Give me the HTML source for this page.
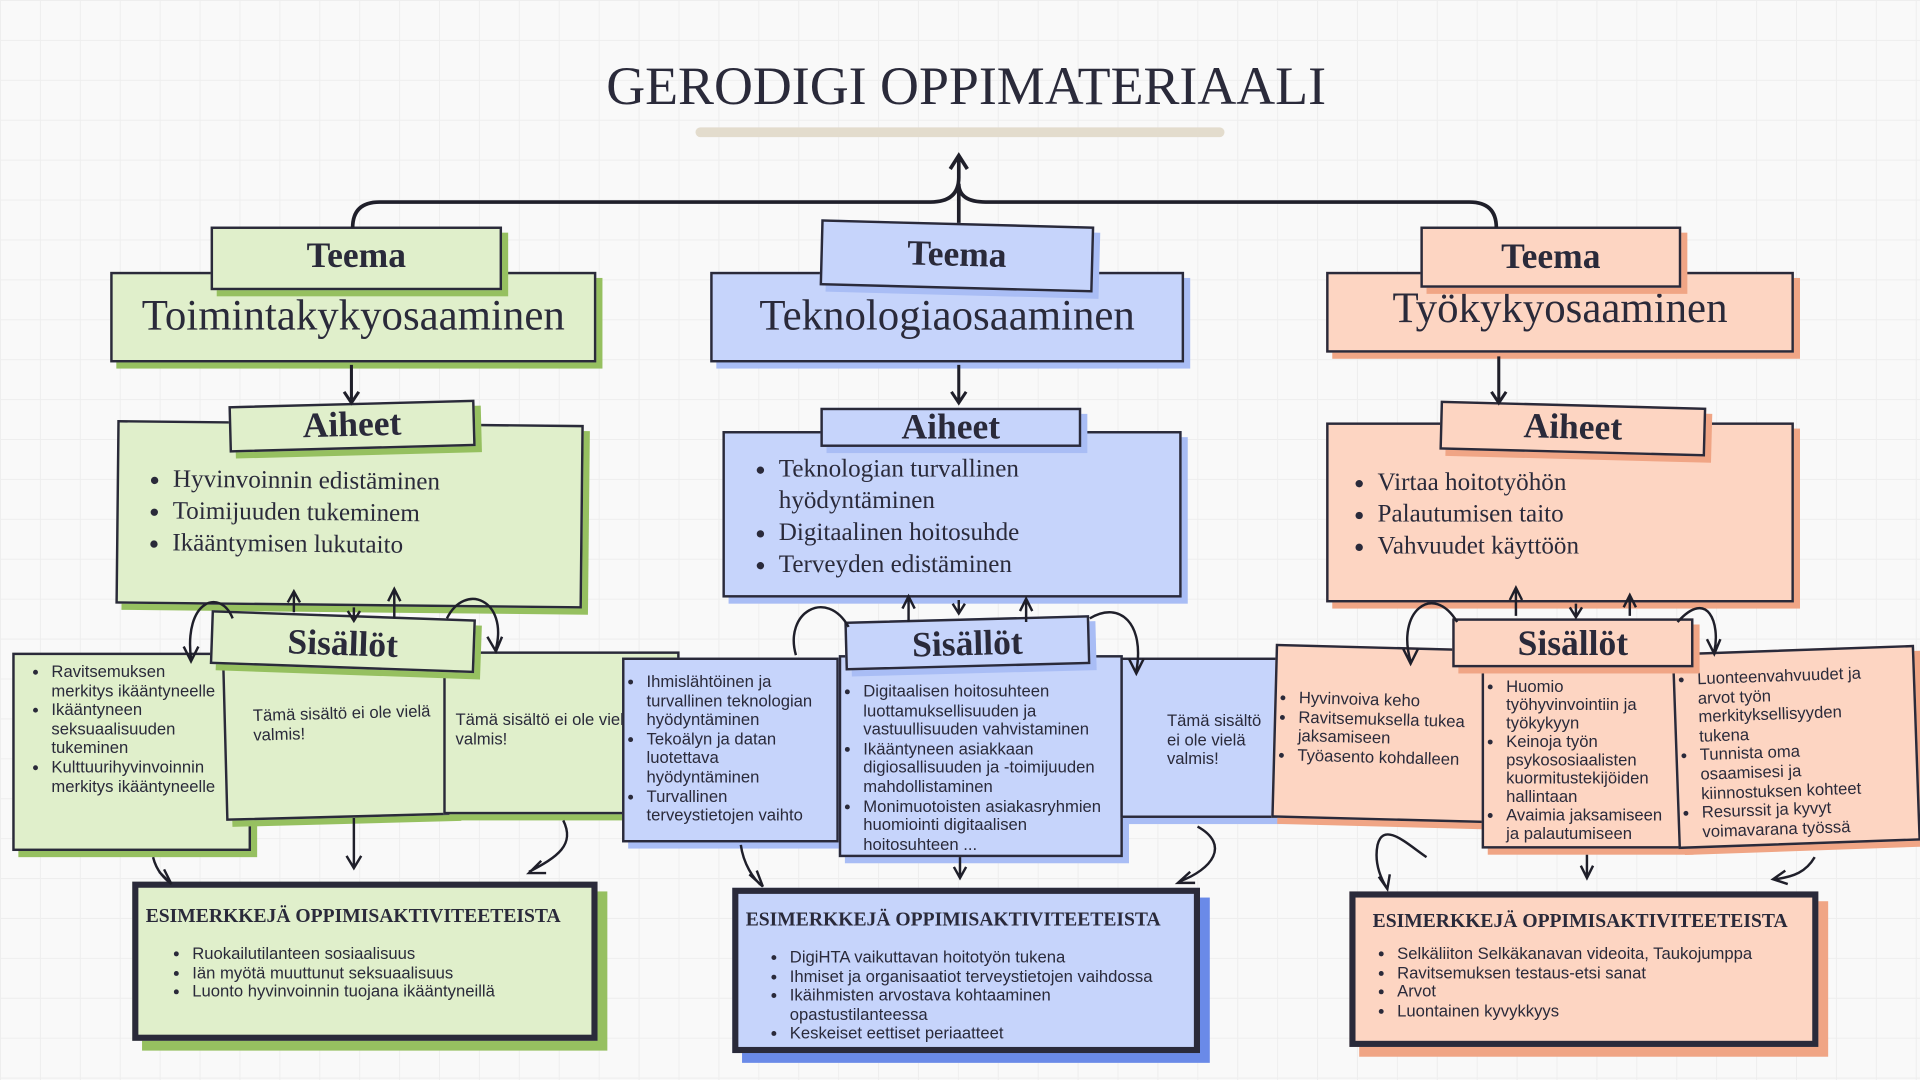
<!DOCTYPE html>
<html><head><meta charset="utf-8"><style>
html,body{margin:0;padding:0;width:1920px;height:1080px;overflow:hidden;background:#f9f9f9}
#w{position:absolute;left:0;top:0;width:1568px;height:882px;transform:scale(1.22449);transform-origin:0 0;
background-color:#f9f9f9;background-image:linear-gradient(#eeeeee 1px,transparent 1px),linear-gradient(90deg,#eeeeee 1px,transparent 1px);background-size:32.6px 32.6px}
.b{position:absolute;border:2.5px solid #2a2a3a;box-sizing:border-box;font-family:"Liberation Sans",sans-serif;color:#2a2a3a}
.g{background:#e0efcb;box-shadow:5px 5px 0 #96c060}
.bl{background:#c6d4fb;box-shadow:5px 5px 0 #a9bdf5}
.o{background:#fdd5c2;box-shadow:5px 5px 0 #f0a585}
.tab{text-align:center;font-family:"Liberation Serif",serif;font-weight:bold;font-size:29px;line-height:1}
.big{font-family:"Liberation Serif",serif;font-size:35px;text-align:center}
ul{margin:0;padding-left:22px}
.ai{font-family:"Liberation Serif",serif;font-size:20.5px;line-height:26px;position:absolute}
.sm{font-size:13.6px;line-height:15.6px}
.sm ul{padding-left:18px}
.ex{border-width:5px}
.ex h3{font-family:"Liberation Serif",serif;font-size:16px;font-weight:bold;margin:0;position:absolute;white-space:nowrap}
svg{position:absolute;left:0;top:0}
</style></head><body><div id="w">
<div style="position:absolute;left:0;width:1578px;top:45px;text-align:center;font-family:'Liberation Serif',serif;font-size:44px;color:#2a2a3a">GERODIGI OPPIMATERIAALI</div>
<div style="position:absolute;left:568px;top:104px;width:432px;height:8px;background:#e3dccd;border-radius:4px"></div>

<div class="b g big" style="left:90px;top:222px;width:397px;height:74px;padding-top:14px">Toimintakykyosaaminen</div>
<div class="b g tab" style="left:172px;top:185px;width:238px;height:52px;padding-top:8px">Teema</div>
<div class="b bl big" style="left:580px;top:222px;width:387px;height:74px;padding-top:14px">Teknologiaosaaminen</div>
<div class="b bl tab" style="left:670px;top:182px;width:223px;height:54px;padding-top:10px;transform:rotate(1.5deg)">Teema</div>
<div class="b o big" style="left:1083px;top:222px;width:382px;height:66px;padding-top:8px">Työkykyosaaminen</div>
<div class="b o tab" style="left:1160px;top:185px;width:213px;height:50px;padding-top:9px">Teema</div>

<div class="b g" style="left:95px;top:345px;width:381px;height:150px;transform:rotate(0.6deg)"><div class="ai" style="left:22px;top:33px"><ul><li>Hyvinvoinnin edistäminen</li><li>Toimijuuden tukeminem</li><li>Ikääntymisen lukutaito</li></ul></div></div>
<div class="b g tab" style="left:187px;top:329px;width:201px;height:38px;padding-top:2px;transform:rotate(-1.5deg)">Aiheet</div>
<div class="b bl" style="left:590px;top:352px;width:375px;height:136px"><div class="ai" style="left:22px;top:16px"><ul><li>Teknologian turvallinen hyödyntäminen</li><li>Digitaalinen hoitosuhde</li><li>Terveyden edistäminen</li></ul></div></div>
<div class="b bl tab" style="left:670px;top:333px;width:213px;height:32px;padding-top:0px">Aiheet</div>
<div class="b o" style="left:1083px;top:345px;width:382px;height:147px"><div class="ai" style="left:18px;top:34px"><ul><li>Virtaa hoitotyöhön</li><li>Palautumisen taito</li><li>Vahvuudet käyttöön</li></ul></div></div>
<div class="b o tab" style="left:1176px;top:330px;width:217px;height:40px;padding-top:3px;transform:rotate(1.5deg)">Aiheet</div>

<div class="b g sm" style="left:10px;top:533px;width:195px;height:162px;padding-top:6px;padding-right:20px"><ul style="padding-left:30px"><li>Ravitsemuksen merkitys ikääntyneelle</li><li>Ikääntyneen seksuaalisuuden tukeminen</li><li>Kulttuurihyvinvoinnin merkitys ikääntyneelle</li></ul></div>
<div class="b g sm" style="left:183px;top:540px;width:187px;height:128px;padding:33px 0 0 22px;transform:rotate(-1.5deg)">Tämä sisältö ei ole vielä valmis!</div>
<div class="b g sm" style="left:362px;top:532px;width:193px;height:133px;padding:46px 30px 0 8px">Tämä sisältö ei ole vielä valmis!</div>
<div class="b g tab" style="left:172px;top:502px;width:216px;height:44px;padding-top:8px;transform:rotate(2deg)">Sisällöt</div>

<div class="b bl sm" style="left:508px;top:537px;width:177px;height:151px;padding-top:10px;padding-right:6px"><ul><li>Ihmislähtöinen ja turvallinen teknologian hyödyntäminen</li><li>Tekoälyn ja datan luotettava hyödyntäminen</li><li>Turvallinen terveystietojen vaihto</li></ul></div>
<div class="b bl sm" style="left:685px;top:535px;width:232px;height:165px;padding-top:20px"><ul><li>Digitaalisen hoitosuhteen luottamuksellisuuden ja vastuullisuuden vahvistaminen</li><li>Ikääntyneen asiakkaan digiosallisuuden ja -toimijuuden mahdollistaminen</li><li>Monimuotoisten asiakasryhmien huomiointi digitaalisen hoitosuhteen ...</li></ul></div>
<div class="b bl sm" style="left:915px;top:537px;width:145px;height:131px;padding:42px 20px 0 36px">Tämä sisältö ei ole vielä valmis!</div>
<div class="b bl tab" style="left:690px;top:505px;width:200px;height:40px;padding-top:5px;transform:rotate(-1.5deg)">Sisällöt</div>

<div class="b o sm" style="left:1040px;top:528px;width:175px;height:142px;padding-top:34px;transform:rotate(1.5deg)"><ul><li>Hyvinvoiva keho</li><li>Ravitsemuksella tukea jaksamiseen</li><li>Työasento kohdalleen</li></ul></div>
<div class="b o sm" style="left:1210px;top:545px;width:168px;height:148px;padding-top:6px;padding-right:6px;line-height:15px"><ul><li>Huomio työhyvinvointiin ja työkykyyn</li><li>Keinoja työn psykososiaalisten kuormitustekijöiden hallintaan</li><li>Avaimia jaksamiseen ja palautumiseen</li></ul></div>
<div class="b o sm" style="left:1368px;top:530px;width:198px;height:160px;padding-top:12px;padding-right:30px;transform:rotate(-2deg)"><ul><li>Luonteenvahvuudet ja arvot työn merkityksellisyyden tukena</li><li>Tunnista oma osaamisesi ja kiinnostuksen kohteet</li><li>Resurssit ja kyvyt voimavarana työssä</li></ul></div>
<div class="b o tab" style="left:1186px;top:505px;width:197px;height:40px;padding-top:5px">Sisällöt</div>

<div class="b g ex sm" style="left:108px;top:720px;width:380px;height:130px;box-shadow:8px 8px 0 #96c060"><h3 style="left:6px;top:16px">ESIMERKKEJÄ OPPIMISAKTIVITEETEISTA</h3><ul style="position:absolute;left:26px;top:46px"><li>Ruokailutilanteen sosiaalisuus</li><li>Iän myötä muuttunut seksuaalisuus</li><li>Luonto hyvinvoinnin tuojana ikääntyneillä</li></ul></div>
<div class="b bl ex sm" style="left:598px;top:725px;width:382px;height:135px;box-shadow:8px 8px 0 #6a8ae8"><h3 style="left:6px;top:14px">ESIMERKKEJÄ OPPIMISAKTIVITEETEISTA</h3><ul style="position:absolute;left:24px;top:44px;width:320px"><li>DigiHTA vaikuttavan hoitotyön tukena</li><li>Ihmiset ja organisaatiot terveystietojen vaihdossa</li><li>Ikäihmisten arvostava kohtaaminen opastustilanteessa</li><li>Keskeiset eettiset periaatteet</li></ul></div>
<div class="b o ex sm" style="left:1102px;top:728px;width:383px;height:127px;box-shadow:8px 8px 0 #f0a585"><h3 style="left:14px;top:12px">ESIMERKKEJÄ OPPIMISAKTIVITEETEISTA</h3><ul style="position:absolute;left:16px;top:38px"><li>Selkäliiton Selkäkanavan videoita, Taukojumppa</li><li>Ravitsemuksen testaus-etsi sanat</li><li>Arvot</li><li>Luontainen kyvykkyys</li></ul></div>

<svg width="1568" height="882" fill="none" stroke="#1f1f2a" stroke-width="3">
<path d="M288 186 Q288 165 310 165 H760 Q783 165 783 145 V128 M776 138 L783 127 L790 138"/>
<path d="M783 182 V150 Q783 165 805 165 H1200 Q1222 165 1222 186"/>
<g stroke-width="2.5">
<path d="M287 298 V328 M281 320 L287 329 L293 320"/>
<path d="M783 298 V328 M777 320 L783 329 L789 320"/>
<path d="M1224 291 V328 M1218 320 L1224 329 L1230 320"/>
</g>
<g stroke-width="2">
<path d="M289 496 V506 M284 499 L289 507 L294 499"/><path d="M240 500 V484 M235 492 L240 483 L245 492"/><path d="M322 505 V482 M317 491 L322 481 L327 491"/>
<path d="M190 505 C180 480 150 490 156 538 M150 528 L156 540 L162 528"/>
<path d="M365 505 C380 475 415 490 405 530 M398 520 L405 532 L410 520"/>
<path d="M783 490 V500 M778 493 L783 501 L788 493"/><path d="M742 508 V488 M737 497 L742 487 L747 497"/><path d="M838 508 V490 M833 499 L838 489 L843 499"/>
<path d="M693 512 C675 480 640 500 650 535"/>
<path d="M890 505 C915 490 935 510 928 548 M922 538 L928 550 L934 538"/>
<path d="M1287 493 V503 M1282 496 L1287 504 L1292 496"/><path d="M1238 503 V480 M1233 490 L1238 480 L1243 490"/><path d="M1331 503 V487 M1326 496 L1331 486 L1336 496"/>
<path d="M1190 508 C1170 475 1140 500 1152 540 M1146 530 L1152 542 L1158 530"/>
<path d="M1370 508 C1395 480 1405 510 1400 532 M1394 522 L1400 534 L1405 522"/>
<path d="M289 668 V708 M283 699 L289 709 L295 699"/>
<path d="M125 700 C128 712 135 718 140 722 M130 712 L140 722 L134 710"/>
<path d="M460 670 C470 690 455 700 432 712 M442 703 L432 713 L446 713"/>
<path d="M605 690 C607 705 615 718 623 724 M612 714 L623 724 L618 711"/>
<path d="M784 700 V716 M779 708 L784 717 L789 708"/>
<path d="M978 675 C1005 690 990 710 963 720 M972 712 L962 721 L976 721"/>
<path d="M1165 700 C1150 690 1130 670 1125 690 C1122 705 1128 718 1133 726 M1126 716 L1133 726 L1135 714"/>
<path d="M1296 698 V716 M1291 707 L1296 717 L1301 707"/>
<path d="M1482 700 C1475 712 1465 716 1450 718 M1458 711 L1448 718 L1460 722"/>
</g>
</svg>
</div></body></html>
